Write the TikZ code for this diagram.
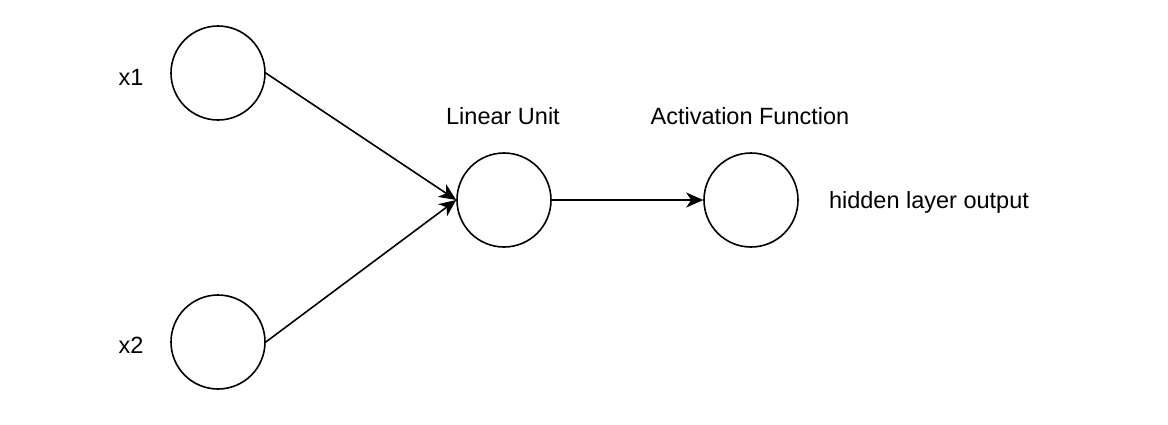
\documentclass[tikz,border=0pt]{standalone}
\usepackage{fontspec}
\setmainfont{Liberation Sans}
\usetikzlibrary{arrows.meta}
\begin{document}
\begin{tikzpicture}[x=1pt,y=-1pt,
  neuron/.style={circle,draw,line width=1.6pt,minimum size=94pt,inner sep=0pt},
  lbl/.style={font=\fontsize{23.5}{28}\selectfont,inner sep=0pt},
  conn/.style={line width=1.6pt,-{Stealth[length=17pt,width=15pt,inset=5pt]}}]
\useasboundingbox (0,0) rectangle (1168,424);
\node[neuron] (x1) at (218,73) {};
\node[neuron] (x2) at (218,342) {};
\node[neuron] (lin) at (504,200) {};
\node[neuron] (act) at (751,200) {};
\node[lbl] (tx1) at (131,77) {x1};
\node[lbl] (tx2) at (131,345) {x2};
\node[lbl] (tlin) at (503,116) {Linear Unit};
\node[lbl] (tact) at (750,116) {Activation Function};
\node[lbl] (tout) at (929,202) {hidden layer output};
\draw[conn] (x1.east) -- (lin.west);
\draw[conn] (x2.east) -- (lin.west);
\draw[conn] (lin.east) -- (act.west);
\end{tikzpicture}
\end{document}
